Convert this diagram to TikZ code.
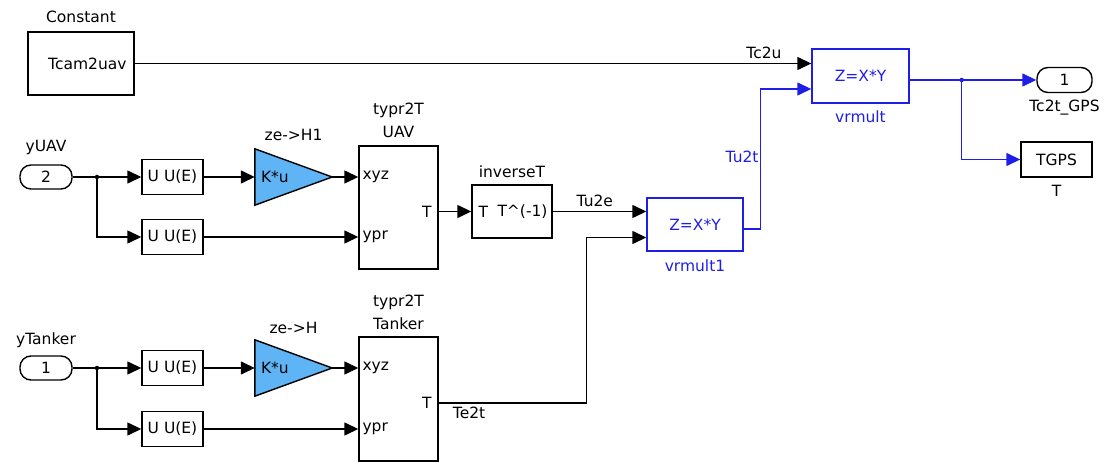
\documentclass[tikz,border=0pt]{standalone}
\usepackage{fontspec}
\setmainfont{DejaVu Sans}
\usetikzlibrary{arrows.meta,calc}
\definecolor{sblue}{RGB}{30,30,230}
\definecolor{gainfill}{RGB}{95,180,245}
\begin{document}
\begin{tikzpicture}[x=1pt,y=-1pt,
  every node/.style={font=\fontsize{15.5}{23}\selectfont, inner sep=1pt},
  blk/.style={draw, line width=1.4pt, inner sep=0pt},
  inport/.style={blk, rounded corners=11pt, minimum width=52pt, minimum height=24pt},
  uublk/.style={blk, minimum width=61pt, minimum height=35pt},
  gainbox/.style={inner sep=0pt, minimum width=77pt, minimum height=56pt},
  lab/.style={align=center},
  wire/.style={line width=1.4pt},
  arr/.style={wire, -{Triangle[length=14pt,width=13pt]}},
  bwire/.style={wire, draw=sblue},
  barr/.style={arr, color=sblue},
  dot/.style={circle, fill, inner sep=0pt, minimum size=4.5pt}
]
\useasboundingbox (0,0) rectangle (1111,462);

% Constant block
\node[blk, minimum width=106pt, minimum height=63pt,
  label={[lab,label distance=7pt]above:Constant}] (const) at (81,63.5) {};
\node[anchor=east, inner sep=0pt] (consttxt) at ([xshift=-8pt]const.east) {Tcam2uav};

% UAV row
\node[inport, label={[lab,label distance=8pt]above:yUAV}] (inU) at (46,177) {2};
\node[dot] (jU) at (97,177) {};
\node[uublk] (uu1) at (172.5,177) {U U(E)};
\node[uublk] (uu2) at (172.5,237) {U U(E)};
\node[gainbox, label={[lab,label distance=7pt]above:ze->H1}] (g1) at (293.5,177) {};
\draw[blk, fill=gainfill] (g1.north west) -- (g1.east) -- (g1.south west) -- cycle;
\node[anchor=west, inner sep=0pt] (g1txt) at ([xshift=6pt]g1.west) {K*u};
\node[blk, minimum width=79pt, minimum height=123pt,
  label={[lab,label distance=6pt]above:typr2T\\UAV}] (typrU) at (398.5,207.5) {};
\node[anchor=west, inner sep=0pt] (typrUx) at ([xshift=4pt]typrU.west |- g1) {xyz};
\node[anchor=west, inner sep=0pt] (typrUy) at ([xshift=4pt]typrU.west |- uu2) {ypr};

\node[blk, minimum width=80pt, minimum height=53pt,
  label={[lab,label distance=5pt]above:inverseT}] (inv) at (512,211.5) {};
\node[anchor=east, inner sep=0pt] (typrUT) at ([xshift=-7pt]typrU.east |- inv) {T};
\node[anchor=west, inner sep=0pt] (invT) at ([xshift=7pt]inv.west) {T};
\node[anchor=east, inner sep=0pt] (invTi) at ([xshift=-5pt]inv.east) {T\textasciicircum(-1)};

% Tanker row
\node[inport, label={[lab,label distance=6pt]above:yTanker}] (inT) at (46,368) {1};
\node[dot] (jT) at (97,368) {};
\node[uublk] (uu3) at (172.5,368) {U U(E)};
\node[uublk] (uu4) at (172.5,429) {U U(E)};
\node[gainbox, label={[lab,label distance=5pt]above:ze->H}] (g2) at (293.5,368) {};
\draw[blk, fill=gainfill] (g2.north west) -- (g2.east) -- (g2.south west) -- cycle;
\node[anchor=west, inner sep=0pt] (g2txt) at ([xshift=6pt]g2.west) {K*u};
\node[blk, minimum width=79pt, minimum height=124pt,
  label={[lab,label distance=5pt]above:typr2T\\Tanker}] (typrT) at (398.5,399) {};
\node[anchor=west, inner sep=0pt] (typrTx) at ([xshift=4pt]typrT.west |- g2) {xyz};
\node[anchor=west, inner sep=0pt] (typrTy) at ([xshift=4pt]typrT.west |- uu4) {ypr};
\node[anchor=east, inner sep=0pt] (typrTT) at ($(typrT.east)+(-7,4)$) {T};

% multipliers
\node[blk, draw=sblue, text=sblue, minimum width=96pt, minimum height=53pt,
  label={[lab,text=sblue,label distance=7pt]below:vrmult1}] (vm1) at (695,224.5) {Z=X*Y};
\node[blk, draw=sblue, text=sblue, minimum width=97pt, minimum height=54pt,
  label={[lab,text=sblue,label distance=6pt]below:vrmult}] (vm) at (860.5,76) {Z=X*Y};

% outputs
\node[inport, minimum width=55pt, minimum height=25pt,
  label={[lab,label distance=6pt]below:Tc2t\_GPS}] (out1) at (1064.5,80) {1};
\node[uublk, minimum width=71pt,
  label={[lab,label distance=6pt]below:T}] (tgps) at (1056.5,159.5) {TGPS};

% wires UAV
\draw[wire] (inU.east) -- (jU.center);
\draw[arr] (jU.center) -- (uu1.west);
\draw[arr] (jU.center) |- (uu2.west);
\draw[arr] (uu1.east) -- (g1.west);
\draw[arr] (g1.east) -- (typrU.west |- g1);
\draw[arr] (uu2.east) -- (typrU.west |- uu2);
\draw[arr] (typrU.east |- inv) -- (inv.west);
\draw[arr] (inv.east) -- node[above=3pt, pos=0.45] (lTu2e) {Tu2e} ($(vm1.west)+(0,-13)$);

% wires Tanker
\draw[wire] (inT.east) -- (jT.center);
\draw[arr] (jT.center) -- (uu3.west);
\draw[arr] (jT.center) |- (uu4.west);
\draw[arr] (uu3.east) -- (g2.west);
\draw[arr] (g2.east) -- (typrT.west |- g2);
\draw[arr] (uu4.east) -- (typrT.west |- uu4);
\coordinate (te) at ($(typrT.east)+(148,4)$);
\draw[arr] ($(typrT.east)+(0,4)$) -- (te) |- ($(vm1.west)+(0,13)$);
\node[anchor=north west, inner sep=0pt] (lTe2t) at ($(typrT.east)+(14,8)$) {Te2t};

% constant wire
\draw[arr] (const.east) -- node[above=3pt, pos=0.93] (lTc2u) {Tc2u} (const.east -| vm.west);

% blue wires
\coordinate (bt) at ($(vm1.east)+(17,4.5)$);
\draw[barr] ($(vm1.east)+(0,4.5)$) -- (bt) |- ($(vm.west)+(0,13)$);
\node[anchor=east, text=sblue, inner sep=0pt] (lTu2t) at ($(bt |- 0,157)+(-2,0)$) {Tu2t};
\coordinate (j2) at ($(vm.east)+(52,4)$);
\draw[bwire] ($(vm.east)+(0,4)$) -- (j2);
\draw[barr] (j2) -- (out1.west |- j2);
\draw[barr] (j2) |- (tgps.west);
\node[dot, color=sblue] (j2dot) at (j2) {};
\end{tikzpicture}
\end{document}
